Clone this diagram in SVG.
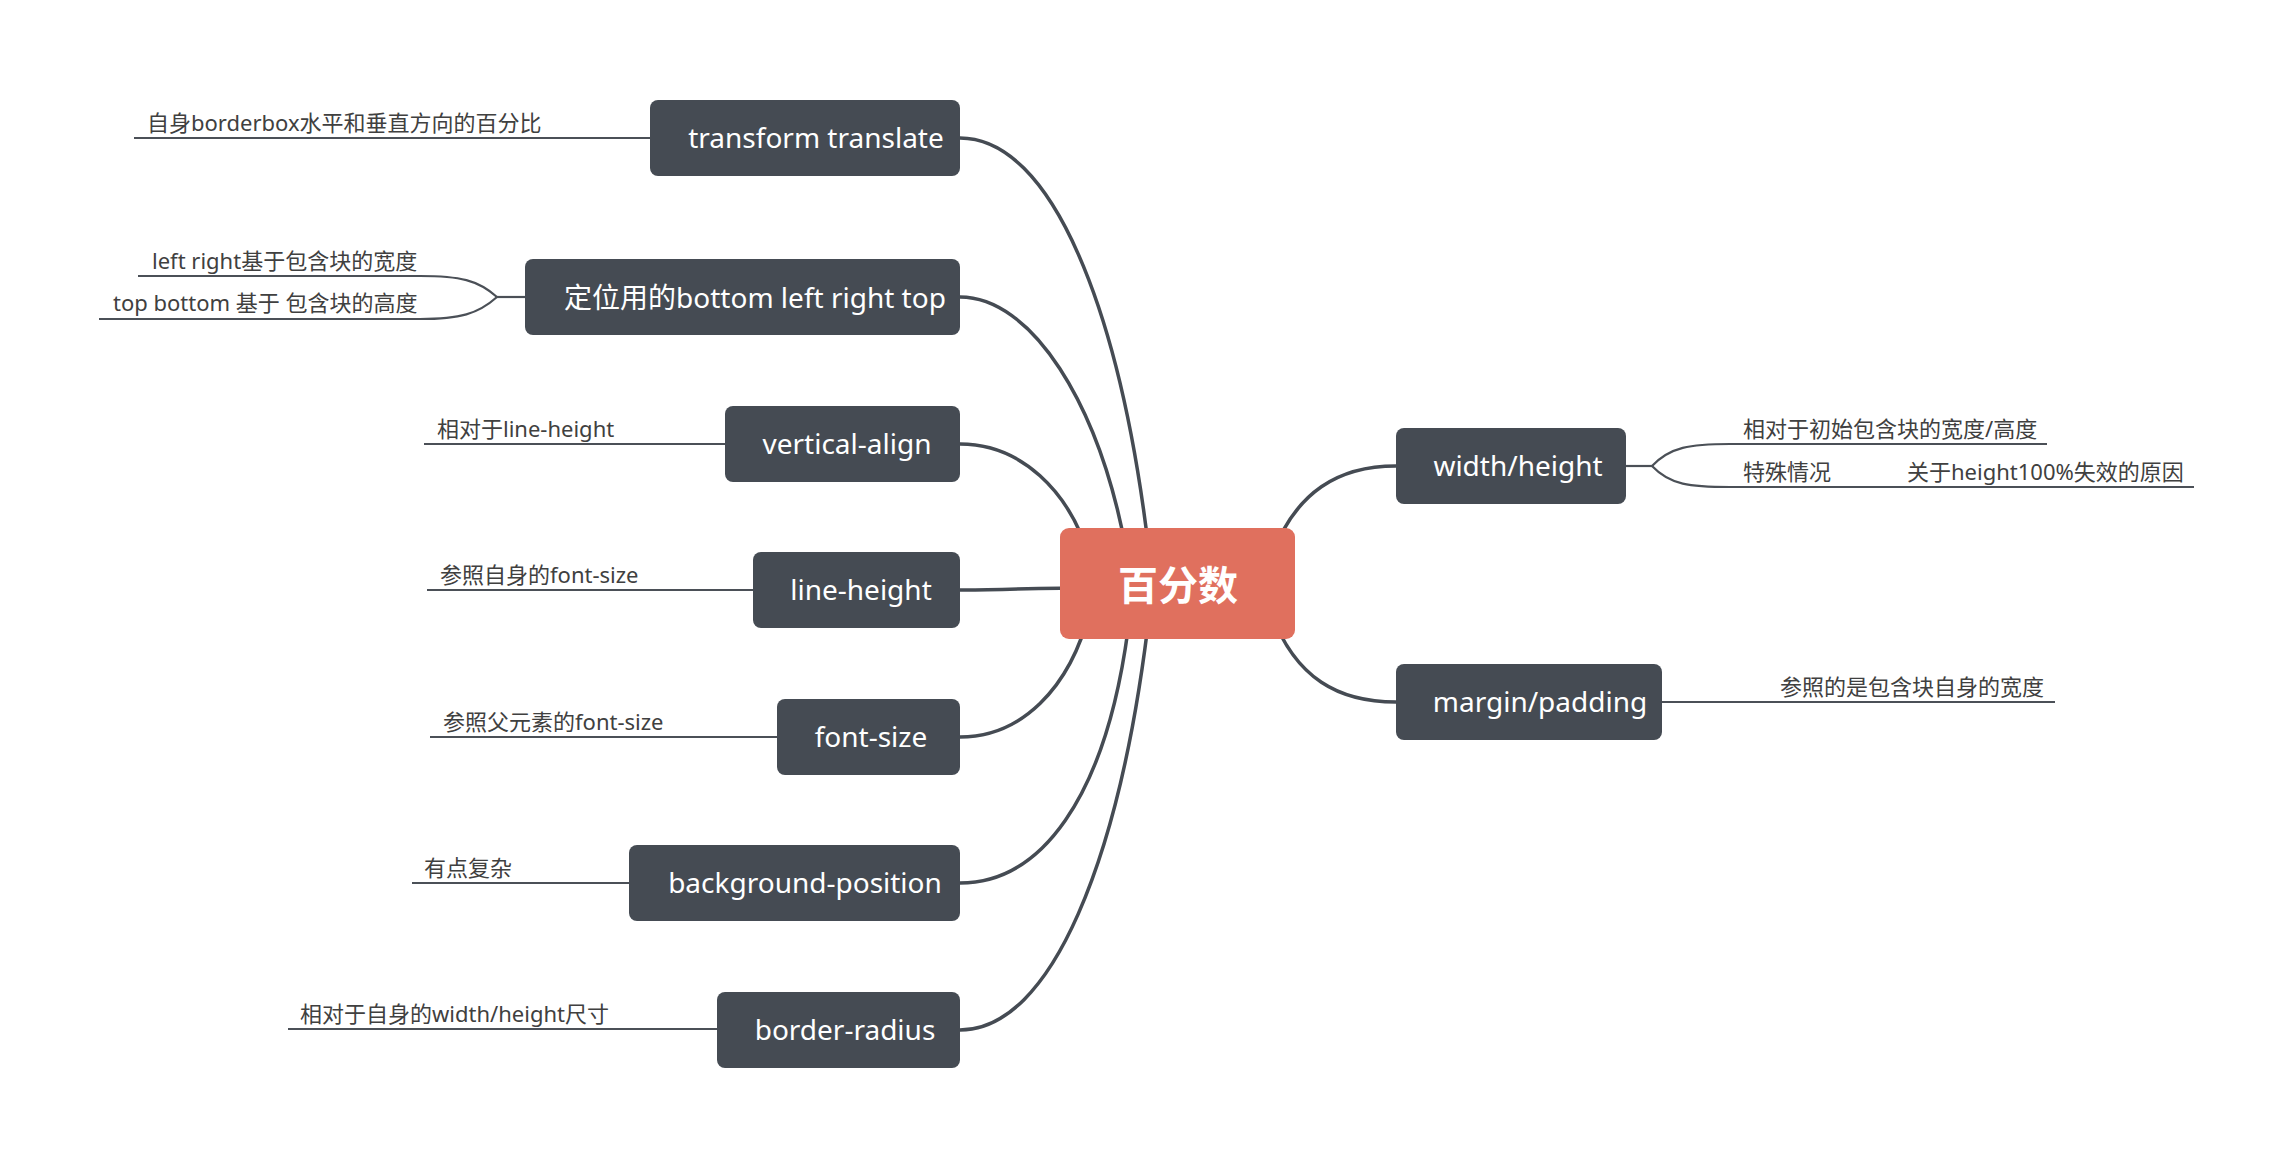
<svg xmlns="http://www.w3.org/2000/svg" width="2294" height="1168" viewBox="0 0 2294 1168">
<style>
.bg{fill:#ffffff}
.main{fill:none;stroke:#454b53;stroke-width:3.5;stroke-linecap:round}
.sub{fill:none;stroke:#4b5057;stroke-width:2.2}
.node rect{fill:#454b53}
.node text{fill:#ffffff;font-family:"Noto Sans","Noto Sans CJK SC",sans-serif;font-size:28px;text-anchor:middle}
.root rect{fill:#e0705e}
.root text{fill:#ffffff;font-family:"Noto Sans CJK SC",sans-serif;font-size:40px;font-weight:bold;text-anchor:middle}
.lbl{fill:#404040;font-family:"Noto Sans","Noto Sans CJK SC",sans-serif;font-size:22px}
</style>
<rect class="bg" x="0" y="0" width="2294" height="1168"/>
<g id="connectors">
<path class="main" d="M960,138 C1051,138 1121,307 1150,560"/>
<path class="main" d="M960,297 C1030,297 1100,400 1128,560"/>
<path class="main" d="M960,444 C1020,444 1070,490 1090,560"/>
<path class="main" d="M960,590 C1000,590 1030,588 1100,588"/>
<path class="main" d="M960,737 C1020,737 1070,690 1090,610"/>
<path class="main" d="M960,883 C1040,883 1105,800 1128,630"/>
<path class="main" d="M960,1030 C1051,1030 1121,861 1150,608"/>
<path class="main" d="M1396,466 C1340,466 1295,490 1270,560"/>
<path class="main" d="M1396,702 C1340,702 1295,680 1270,610"/>
<path class="sub" d="M134,138 H650"/>
<path class="sub" d="M138,276 H420 C460,276 478,280 497,297"/>
<path class="sub" d="M99,319 H420 C460,319 478,314 497,297"/>
<path class="sub" d="M497,297 H525"/>
<path class="sub" d="M424,444 H725"/>
<path class="sub" d="M427,590 H753"/>
<path class="sub" d="M430,737 H777"/>
<path class="sub" d="M412,883 H629"/>
<path class="sub" d="M288,1029 H717"/>
<path class="sub" d="M1626,466 H1652"/>
<path class="sub" d="M1652,466 C1670,447 1690,444 1730,444 H2047"/>
<path class="sub" d="M1652,466 C1670,485 1690,487 1730,487 H2194"/>
<path class="sub" d="M1662,702 H2055"/>
</g>
<g id="root" class="root"><rect x="1060" y="528" width="235" height="111" rx="9"/><text x="1178" y="600">百分数</text></g>
<g id="n-transform" class="node"><rect x="650" y="100" width="310" height="76" rx="8"/><text x="816" y="148">transform translate</text></g>
<g id="n-position" class="node"><rect x="525" y="259" width="435" height="76" rx="8"/><text x="755" y="308">定位用的bottom left right top</text></g>
<g id="n-valign" class="node"><rect x="725" y="406" width="235" height="76" rx="8"/><text x="847" y="454">vertical-align</text></g>
<g id="n-lineheight" class="node"><rect x="753" y="552" width="207" height="76" rx="8"/><text x="861" y="600">line-height</text></g>
<g id="n-fontsize" class="node"><rect x="777" y="699" width="183" height="76" rx="8"/><text x="871" y="747">font-size</text></g>
<g id="n-bgpos" class="node"><rect x="629" y="845" width="331" height="76" rx="8"/><text x="805" y="893">background-position</text></g>
<g id="n-radius" class="node"><rect x="717" y="992" width="243" height="76" rx="8"/><text x="845" y="1040">border-radius</text></g>
<g id="n-wh" class="node"><rect x="1396" y="428" width="230" height="76" rx="8"/><text x="1518" y="476">width/height</text></g>
<g id="n-mp" class="node"><rect x="1396" y="664" width="266" height="76" rx="8"/><text x="1540" y="712">margin/padding</text></g>
<g id="l-transform"><text class="lbl" x="147" y="131">自身borderbox水平和垂直方向的百分比</text></g>
<g id="l-pos1"><text class="lbl" x="152" y="269">left right基于包含块的宽度</text></g>
<g id="l-pos2"><text class="lbl" x="113" y="311">top bottom 基于 包含块的高度</text></g>
<g id="l-valign"><text class="lbl" x="437" y="437">相对于line-height</text></g>
<g id="l-lineheight"><text class="lbl" x="440" y="583">参照自身的font-size</text></g>
<g id="l-fontsize"><text class="lbl" x="443" y="730">参照父元素的font-size</text></g>
<g id="l-bgpos"><text class="lbl" x="424" y="876">有点复杂</text></g>
<g id="l-radius"><text class="lbl" x="300" y="1022">相对于自身的width/height尺寸</text></g>
<g id="l-wh1"><text class="lbl" x="1743" y="437">相对于初始包含块的宽度/高度</text></g>
<g id="l-wh2"><text class="lbl" x="1743" y="480">特殊情况</text></g>
<g id="l-wh3"><text class="lbl" x="1907" y="480">关于height100%失效的原因</text></g>
<g id="l-mp"><text class="lbl" x="1780" y="695">参照的是包含块自身的宽度</text></g>
</svg>
